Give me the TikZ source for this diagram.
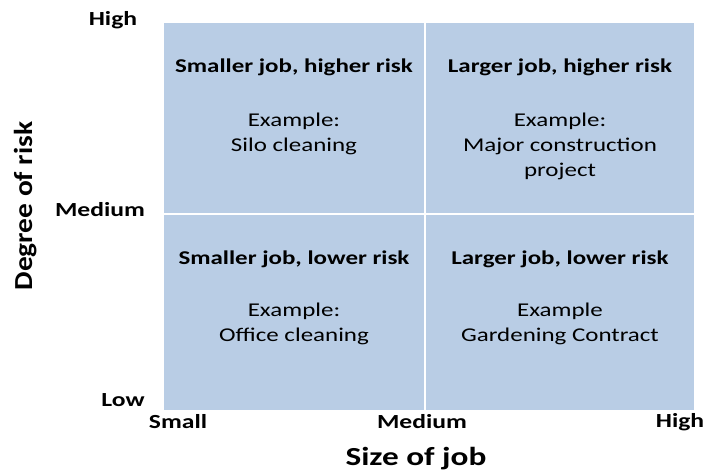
\documentclass[tikz,border=0pt]{standalone}
\usepackage{fontspec}
\setmainfont{Carlito}[FakeStretch=1.28]
\newfontfamily\ytfont{Carlito}[FakeStretch=1.13]
\definecolor{quad}{HTML}{B9CDE5}
\begin{document}
\begin{tikzpicture}[x=1pt,y=-1pt,
  quadbox/.style={rectangle,fill=quad,draw=white,line width=1.2pt,inner sep=0pt},
  headtxt/.style={font=\fontsize{19.5}{24}\selectfont\bfseries},
  extxt/.style={font=\fontsize{19.5}{25}\selectfont,align=center},
  ticktxt/.style={font=\fontsize{20}{24}\selectfont\bfseries},
  axistxt/.style={font=\fontsize{26}{30}\selectfont\bfseries}]
\useasboundingbox (0,0) rectangle (704,472);
\node[quadbox,minimum width=262pt,minimum height=192pt] (tl) at (294,118) {};
\node[quadbox,minimum width=270pt,minimum height=192pt] (tr) at (560,118) {};
\node[quadbox,minimum width=262pt,minimum height=197pt] (bl) at (294,312.5) {};
\node[quadbox,minimum width=270pt,minimum height=197pt] (br) at (560,312.5) {};
\node[headtxt] (tlh) at (294,67) {Smaller job, higher risk};
\node[extxt] (tle) at (294,134) {Example:\\Silo cleaning};
\node[headtxt] (trh) at (560,67) {Larger job, higher risk};
\node[extxt] (tre) at (560,146) {Example:\\Major construction\\project};
\node[headtxt] (blh) at (294,259) {Smaller job, lower risk};
\node[extxt] (ble) at (294,324) {Example:\\Office cleaning};
\node[headtxt] (brh) at (560,259) {Larger job, lower risk};
\node[extxt] (bre) at (560,324) {Example\\Gardening Contract};
\node[ticktxt] (yhigh) at (113,20) {High};
\node[ticktxt] (ymed) at (100,210) {Medium};
\node[ticktxt] (ylow) at (123,400) {Low};
\node[ticktxt] (xsmall) at (178,422) {Small};
\node[ticktxt] (xmed) at (422,422) {Medium};
\node[ticktxt] (xhigh) at (680,422) {High};
\node[axistxt] (xtitle) at (416,459) {Size of job};
\node[axistxt,font=\fontsize{26}{30}\selectfont\ytfont\bfseries,rotate=90] (ytitle) at (26,206) {Degree of risk};
\end{tikzpicture}
\end{document}
